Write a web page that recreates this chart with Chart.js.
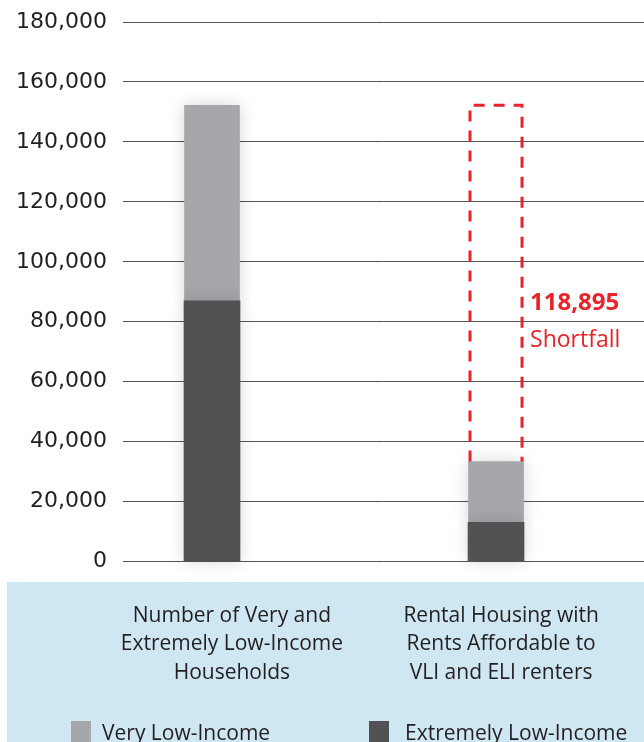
<!DOCTYPE html>
<html>
<head>
<meta charset="utf-8">
<script src="https://cdn.jsdelivr.net/npm/chart.js@4.4.1/dist/chart.umd.min.js"></script>
<style>
    body { margin: 0; background: #fff; }
    #wrap { position: relative; width: 644px; height: 742px; overflow: hidden; }
    #panel { position: absolute; left: 7px; top: 582px; right: 0; bottom: 0; background: #cfe6f3; }
    #chart { position: absolute; left: 0; top: 0; }
    .legend-item { position: absolute; top: 718px; font: 21px "Open Sans", sans-serif; color: #231f20; white-space: nowrap; }
    .legend-item i { position: absolute; left: 0; top: 3px; width: 20px; height: 24px; }
</style>
</head>
<body>
<div id="wrap">
    <div id="panel"></div>
    <canvas id="chart" width="644" height="742"></canvas>
    <div id="legend"></div>
</div>
<script>
// Categories (multi-line x labels)
const categories = [
    ['Number of Very and', 'Extremely Low-Income', 'Households'],
    ['Rental Housing with', 'Rents Affordable to', 'VLI and ELI renters']
];

// Series values
const extremelyLowIncome = [87000, 13100];
const veryLowIncome = [65230, 20235];

// Y axis ticks
const yTicks = [0, 20000, 40000, 60000, 80000, 100000, 120000, 140000, 160000, 180000];

const lightGray = '#a6a7ab';
const darkGray = '#525254';
const red = '#e8232b';
const textColor = '#231f20';

// Labels sit a little right of the bars in the original
const labelShift = [0.07, 0.018];

// Soft shadow behind the bars
const barShadow = {
    id: 'barShadow',
    beforeDatasetsDraw(chart) {
        chart.ctx.save();
        chart.ctx.shadowColor = 'rgba(0,0,0,0.16)';
        chart.ctx.shadowBlur = 16;
    },
    afterDatasetsDraw(chart) {
        chart.ctx.restore();
    }
};

// Dashed outline showing the shortfall on the second bar
const shortfallBox = {
    id: 'shortfallBox',
    afterDatasetsDraw(chart) {
        const ctx = chart.ctx;
        const x = chart.scales.x.getPixelForValue(1);
        const households = extremelyLowIncome[0] + veryLowIncome[0];
        const affordable = extremelyLowIncome[1] + veryLowIncome[1];
        const yTop = chart.scales.y.getPixelForValue(households);
        const yBot = chart.scales.y.getPixelForValue(affordable);
        const half = 26;

        ctx.save();
        ctx.strokeStyle = red;
        ctx.lineWidth = 3;
        ctx.setLineDash([11, 9]);
        ctx.beginPath();
        ctx.moveTo(x - half, yBot);
        ctx.lineTo(x - half, yTop);
        ctx.lineTo(x + half, yTop);
        ctx.lineTo(x + half, yBot);
        ctx.stroke();

        const mid = (yTop + yBot) / 2;
        ctx.fillStyle = red;
        ctx.textAlign = 'left';
        ctx.textBaseline = 'alphabetic';
        ctx.font = 'bold 24px "Open Sans", sans-serif';
        ctx.fillText((households - affordable).toLocaleString('en-US'), x + half + 8, mid + 27);
        ctx.font = '23px "Open Sans", sans-serif';
        ctx.fillText('Shortfall', x + half + 8, mid + 64);
        ctx.restore();
    }
};

const chart = new Chart(document.getElementById('chart'), {
    type: 'bar',
    data: {
        datasets: [{
            label: 'Extremely Low-Income',
            data: extremelyLowIncome.map((v, i) => ({x: i, y: v})),
            backgroundColor: darkGray,
            barThickness: 56,
            clip: false
        }, {
            label: 'Very Low-Income',
            data: veryLowIncome.map((v, i) => ({x: i, y: v})),
            backgroundColor: lightGray,
            barThickness: 55,
            clip: false
        }]
    },
    options: {
        responsive: false,
        animation: false,
        layout: { padding: { left: 17, top: 22, right: 0, bottom: 23 } },
        plugins: {
            legend: { display: false },
            tooltip: { enabled: false }
        },
        scales: {
            x: {
                type: 'linear',
                stacked: true,
                offset: false,
                min: -0.3134,
                max: 1.521,
                grid: { display: false },
                border: { display: false },
                afterBuildTicks: axis => {
                    axis.ticks = categories.map((c, i) => ({value: i + labelShift[i]}));
                },
                afterFit: axis => {
                    // long labels shouldn't push the plot area around
                    axis.paddingLeft = 0;
                    axis.paddingRight = 0;
                },
                ticks: {
                    autoSkip: false,
                    maxRotation: 0,
                    padding: 32,
                    color: textColor,
                    font: { family: '"Open Sans", sans-serif', size: 21, lineHeight: 1.357 },
                    callback: (value, index) => categories[index]
                }
            },
            y: {
                stacked: true,
                min: 0,
                max: 180000,
                afterBuildTicks: axis => {
                    axis.ticks = yTicks.map(v => ({value: v}));
                },
                afterFit: axis => {
                    axis.width = 106;
                    axis.paddingTop = 0;
                    axis.paddingBottom = 0;
                },
                grid: { color: '#555', lineWidth: 1, drawTicks: false },
                border: { display: false },
                ticks: {
                    padding: 16,
                    color: textColor,
                    font: { family: '"DejaVu Sans", sans-serif', size: 22 },
                    callback: v => v.toLocaleString('en-US')
                }
            }
        }
    },
    plugins: [barShadow, shortfallBox]
});

// Legend built from the datasets, light first like the original
function createLegend() {
    const div = document.getElementById('legend');
    const lefts = [71, 369];
    const items = [chart.data.datasets[1], chart.data.datasets[0]];
    items.forEach((ds, i) => {
        const item = document.createElement('div');
        item.className = 'legend-item';
        item.style.left = lefts[i] + 'px';
        item.style.paddingLeft = (i === 0 ? 31 : 36) + 'px';
        item.innerHTML = '<i style="background:' + ds.backgroundColor + '"></i>' + ds.label;
        div.appendChild(item);
    });
}

createLegend();
</script>
</body>
</html>
